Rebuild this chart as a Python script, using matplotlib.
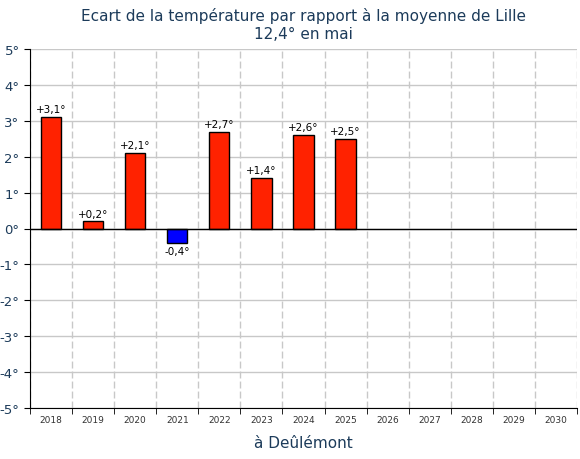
import matplotlib
matplotlib.use("Agg")
import matplotlib.pyplot as plt
import numpy as np

years = ['2018', '2019', '2020', '2021', '2022', '2023', '2024', '2025',
         '2026', '2027', '2028', '2029', '2030']
ecarts = [3.1, 0.2, 2.1, -0.4, 2.7, 1.4, 2.6, 2.5]
y_ticks = [-5, -4, -3, -2, -1, 0, 1, 2, 3, 4, 5]

navy = '#1c3b5a'
plt.rcParams['font.family'] = ['DejaVu Sans']

fig = plt.figure(figsize=(5.8, 4.6), dpi=100)
ax = fig.add_axes([30 / 580, 51 / 460, 547 / 580, 359 / 460])

x = np.arange(len(ecarts))
colors = ['#ff2200' if v >= 0 else '#0000ff' for v in ecarts]
ax.bar(x, ecarts, width=0.48, color=colors, edgecolor='black', linewidth=1, zorder=3)

for xi, v in zip(x, ecarts):
    txt = '{:+.1f}°'.format(v).replace('.', ',')
    if v >= 0:
        ax.annotate(txt, (xi, v), xytext=(0, 2), textcoords='offset points',
                    ha='center', va='bottom', fontsize=7.5)
    else:
        ax.annotate(txt, (xi, v), xytext=(0, -2), textcoords='offset points',
                    ha='center', va='top', fontsize=7.5)

ax.set_xlim(-0.5, len(years) - 0.5)
ax.set_ylim(-5, 5)
ax.set_yticks(y_ticks)
ax.set_yticklabels(['{}°'.format(t) for t in y_ticks], color=navy, fontsize=9.5)
ax.set_xticks(np.arange(len(years)))
ax.set_xticklabels(years, fontsize=6.5, color='#333333')
ax.tick_params(axis='x', length=0, pad=5)
ax.set_xticks(np.arange(len(years) + 1) - 0.5, minor=True)
ax.tick_params(axis='x', which='minor', length=4, direction='out')
ax.tick_params(axis='y', length=4, direction='out')

ax.grid(axis='y', color='#c8c8c8', linewidth=1, zorder=0)
ax.grid(axis='x', which='minor', color='#c8c8c8', linewidth=1,
        linestyle=(0, (5, 2.2)), zorder=0)
ax.axhline(0, color='black', linewidth=1, zorder=4)

for s in ['top', 'right']:
    ax.spines[s].set_visible(False)

ax.set_title('Ecart de la température par rapport à la moyenne de Lille\n12,4° en mai',
             color=navy, fontsize=11, pad=8)
ax.set_xlabel('à Deûlémont', color=navy, fontsize=11, labelpad=8)

fig.savefig('out.png', dpi=100)
